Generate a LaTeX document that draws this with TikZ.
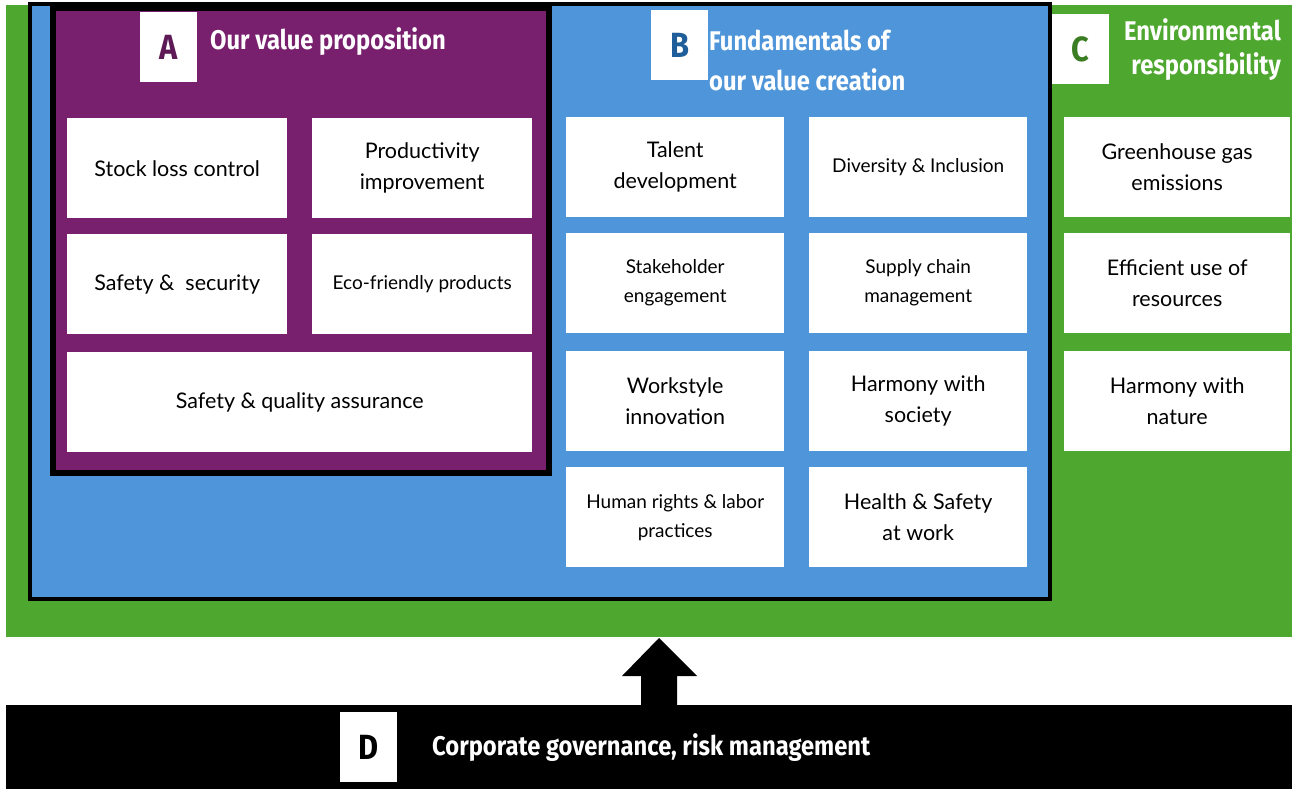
\documentclass[tikz,border=0pt]{standalone}
\usepackage{fontspec}
\setmainfont{Lato}
\newfontfamily\headfont[FakeStretch=0.88]{Fira Sans}
\usetikzlibrary{positioning}

\definecolor{envgreen}{HTML}{4EA72E}
\definecolor{fundblue}{HTML}{4E95D9}
\definecolor{propurple}{HTML}{78206E}
\definecolor{letterA}{HTML}{5E1A56}
\definecolor{letterB}{HTML}{1F5E9A}
\definecolor{letterC}{HTML}{3B7D23}

\tikzset{
  cell/.style={fill=white, align=center, inner sep=0pt, anchor=north west,
    font=\fontsize{21.5}{31}\selectfont},
  smallcell/.style={cell, font=\fontsize{19}{29}\selectfont},
  acell/.style={minimum width=220pt, minimum height=100pt},
  bcell/.style={minimum width=218pt, minimum height=100pt},
  ccell/.style={minimum width=226pt, minimum height=100pt},
  letterbox/.style={fill=white, minimum width=57pt, minimum height=70pt, inner sep=0pt,
    anchor=north west, font=\headfont\bfseries\fontsize{35}{35}\selectfont},
  heading/.style={text=white, inner sep=0pt, font=\headfont\bfseries\fontsize{27}{40}\selectfont},
}

\begin{document}
\begin{tikzpicture}[x=1pt, y=-1pt]
    \useasboundingbox (0,0) rectangle (1292,789);

    % Panels
    \fill[envgreen] (6,5) rectangle (1292,637);
    \filldraw[fill=fundblue, draw=black, line width=4pt] (30,4) rectangle (1050,599);
    \filldraw[fill=propurple, draw=black, line width=6pt] (53,8) rectangle (549,473);

    % A: value proposition
    \node[letterbox, text=letterA] (letA) at (140,12) {A};
    \node[heading, anchor=west] (headA) at (210,42) {Our value proposition};
    \node[cell, acell] (stock) at (67,118) {Stock loss control};
    \node[cell, acell] (produc) at (312,118) {Productivity\\improvement};
    \node[cell, acell] (safesec) at (67,234) {Safety \&\ \ security};
    \node[smallcell, acell] (ecoprod) at (312,234) {Eco-friendly products};
    \node[cell, acell, minimum width=465pt] (quality) at (67,352) {Safety \& quality assurance};

    % B: fundamentals
    \node[letterbox, text=letterB] (letB) at (651,10) {B};
    \node[heading, anchor=west, align=left] (headB) at (709,60) {Fundamentals of\\our value creation};
    \node[cell, bcell] (talent) at (566,117) {Talent\\development};
    \node[smallcell, bcell] (divers) at (809,117) {Diversity \& Inclusion};
    \node[smallcell, bcell] (stake) at (566,233) {Stakeholder\\engagement};
    \node[smallcell, bcell] (supply) at (809,233) {Supply chain\\management};
    \node[cell, bcell] (workst) at (566,351) {Workstyle\\innovation};
    \node[cell, bcell] (society) at (809,351) {Harmony with\\society};
    \node[smallcell, bcell] (rights) at (566,467) {Human rights \& labor\\practices};
    \node[cell, bcell] (health) at (809,467) {Health \& Safety\\at work};

    % C: environment
    \node[letterbox, text=letterC] (letC) at (1052,14) {C};
    \node[heading, anchor=east, align=right, font=\headfont\bfseries\fontsize{27}{34}\selectfont] (headC) at (1281,50) {Environmental\\responsibility};
    \node[cell, ccell] (ghg) at (1064,117) {Greenhouse gas\\emissions};
    \node[cell, ccell] (effic) at (1064,233) {Efficient use of\\resources};
    \node[cell, ccell] (nature) at (1064,351) {Harmony with\\nature};

    % D: governance
    \node[fill=black, minimum width=1286pt, minimum height=84pt, inner sep=0pt, anchor=north west] (govband) at (6,705) {};
    \node[letterbox, text=black] (letD) at (340,712) {D};
    \node[heading, anchor=west] (headD) at (432,748) {Corporate governance, risk management};

    % Arrow
    \coordinate (tip) at (659,638);
    \fill (tip) -- ++(38,38) -- ++(-20,0) -- (677,706) -- (641,706) -- ++(0,-30) -- ++(-19,0) -- cycle;
\end{tikzpicture}
\end{document}
